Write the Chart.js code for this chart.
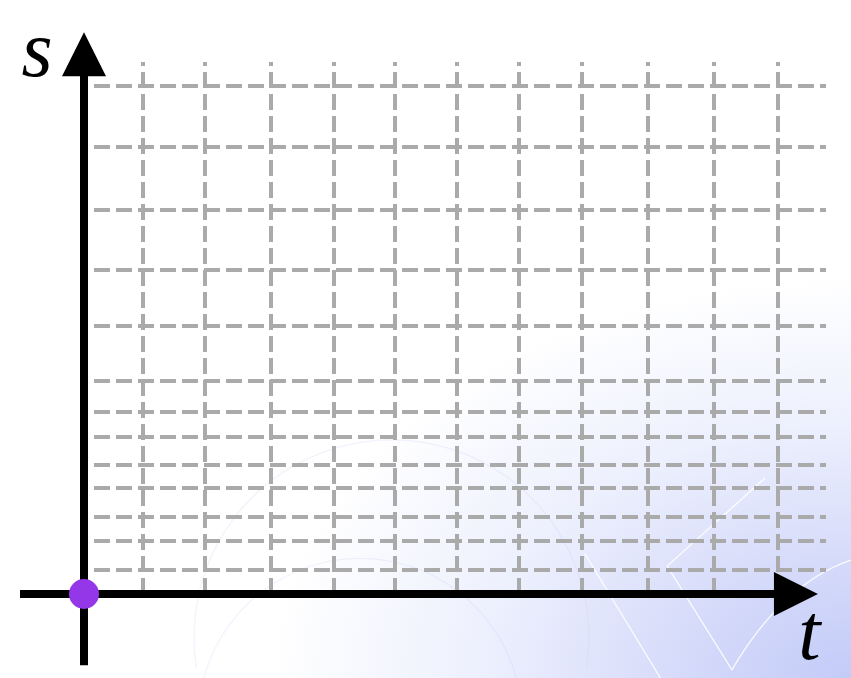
<!DOCTYPE html>
<html>
<head>
<meta charset="utf-8">
<script src="https://cdn.jsdelivr.net/npm/chart.js@4.4.1/dist/chart.umd.min.js"></script>
<style>
  html, body { margin: 0; padding: 0; }
  body {
    width: 851px; height: 678px; overflow: hidden;
    background: radial-gradient(ellipse 580px 400px at 100% 100%, #c3cbf8 0%, #d6dbfa 30%, #edf0fd 64%, #ffffff 100%);
  }
  #wrap { position: relative; width: 851px; height: 678px; }
</style>
</head>
<body>
<div id="wrap"><canvas id="c"></canvas></div>
<script>
// ---- data ----
const tGridValues = [0.96, 1.96, 3.03, 4.04, 5.03, 6.03, 7.04, 8.05, 9.12, 10.19, 11.23];
const sGridValues = [0.39, 0.86, 1.24, 1.71, 2.09, 2.54, 2.95, 3.44, 4.33, 5.23, 6.21, 7.23, 8.21];
const originPoint = [{ x: 0, y: 0 }];
const tRange = [0, 12];
const sRange = [0, 8.6];
const tAxisExtent = [-1.035, 11.87];
const sAxisExtent = [-1.15, 9.08];
const axisLabels = { t: 't', s: 's' };

// ---- decorative background + axes ----
const decorPlugin = {
  id: 'decor',
  beforeDraw(chart) {
    const { ctx, width: W, height: H } = chart;
    ctx.save();
    // faint arcs
    ctx.strokeStyle = 'rgba(205,210,245,0.28)';
    ctx.lineWidth = 1.2;
    ctx.beginPath();
    ctx.arc(W * 0.46, H * 0.94, W * 0.232, Math.PI * 0.95, Math.PI * 2.05);
    ctx.stroke();
    ctx.beginPath();
    ctx.arc(W * 0.423, H * 1.062, W * 0.19, Math.PI * 1.05, Math.PI * 1.95);
    ctx.stroke();
    // white strokes lower right
    ctx.strokeStyle = 'rgba(255,255,255,0.9)';
    ctx.lineWidth = 1.3;
    ctx.beginPath();
    ctx.moveTo(W * 0.687, H * 0.816);
    ctx.lineTo(W * 0.776, H * 1.0);
    ctx.stroke();
    ctx.beginPath();
    ctx.moveTo(W * 0.899, H * 0.705);
    ctx.lineTo(W * 0.784, H * 0.835);
    ctx.lineTo(W * 0.860, H * 0.988);
    ctx.quadraticCurveTo(W * 0.92, H * 0.86, W * 1.0, H * 0.826);
    ctx.stroke();
    ctx.restore();
  },
  beforeDatasetsDraw(chart) {
    const { ctx, scales: { x, y } } = chart;
    const x0 = x.getPixelForValue(0), y0 = y.getPixelForValue(0);
    const xl = x.getPixelForValue(tAxisExtent[0]), xt = x.getPixelForValue(tAxisExtent[1]);
    const yb = y.getPixelForValue(sAxisExtent[0]), yt = y.getPixelForValue(sAxisExtent[1]);
    const head = 44, half = 22;
    ctx.save();
    ctx.strokeStyle = '#000';
    ctx.fillStyle = '#000';
    ctx.lineWidth = 8;
    ctx.lineCap = 'butt';
    ctx.beginPath(); ctx.moveTo(xl, y0); ctx.lineTo(xt - head + 2, y0); ctx.stroke();
    ctx.beginPath(); ctx.moveTo(x0, yb); ctx.lineTo(x0, yt + head - 2); ctx.stroke();
    ctx.beginPath(); ctx.moveTo(xt, y0); ctx.lineTo(xt - head, y0 - half); ctx.lineTo(xt - head, y0 + half); ctx.closePath(); ctx.fill();
    ctx.beginPath(); ctx.moveTo(x0, yt); ctx.lineTo(x0 - half, yt + head); ctx.lineTo(x0 + half, yt + head); ctx.closePath(); ctx.fill();
    ctx.font = 'italic 80px "Liberation Serif", serif';
    ctx.textAlign = 'center';
    ctx.textBaseline = 'alphabetic';
    ctx.fillText(axisLabels.s, x0 - 47, yt + 44);
    ctx.fillText(axisLabels.t, xt - 8.5, y0 + 65);
    ctx.restore();
  }
};

const gridStyle = { color: '#aaaaaa', lineWidth: 4, drawTicks: false, tickBorderDash: [16, 6], tickBorderDashOffset: 12 };
const borderStyle = { display: false, dash: [16, 6], dashOffset: 12 };

new Chart(document.getElementById('c'), {
  type: 'scatter',
  data: {
    datasets: [{
      data: originPoint,
      pointRadius: 15,
      pointHoverRadius: 15,
      backgroundColor: '#9437e8',
      borderWidth: 0,
      clip: false
    }]
  },
  options: {
    responsive: true,
    maintainAspectRatio: false,
    animation: false,
    events: [],
    layout: { padding: { left: 84, right: 25, top: 62, bottom: 84 } },
    plugins: { legend: { display: false }, tooltip: { enabled: false } },
    scales: {
      x: {
        type: 'linear', min: tRange[0], max: tRange[1],
        afterBuildTicks: s => { s.ticks = tGridValues.map(v => ({ value: v })); },
        ticks: { display: false },
        grid: gridStyle,
        border: borderStyle
      },
      y: {
        type: 'linear', min: sRange[0], max: sRange[1],
        afterBuildTicks: s => { s.ticks = sGridValues.map(v => ({ value: v })); },
        ticks: { display: false },
        grid: gridStyle,
        border: borderStyle
      }
    }
  },
  plugins: [decorPlugin]
});
</script>
</body>
</html>
